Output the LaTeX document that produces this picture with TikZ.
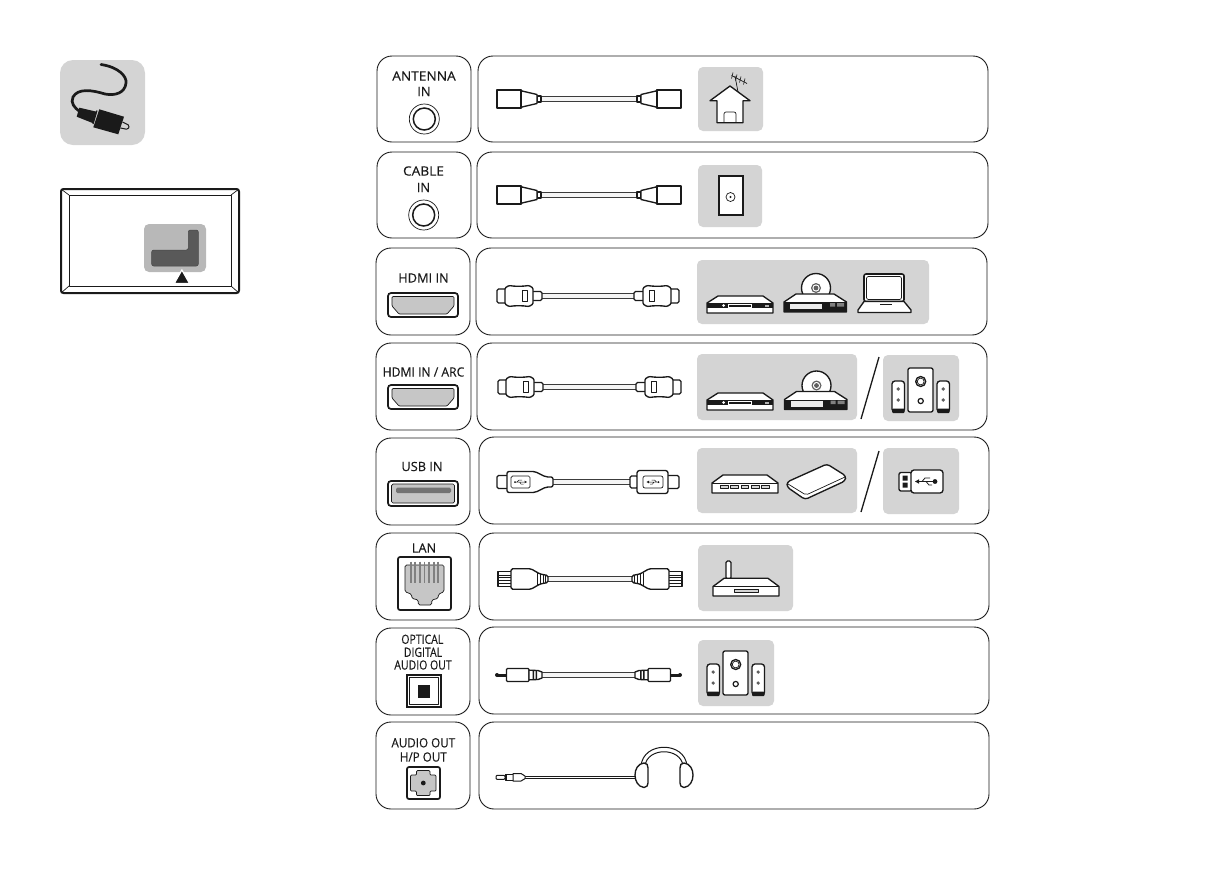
\documentclass[tikz,border=0pt]{standalone}
\usepackage{fontspec}
\setmainfont{Open Sans}
\newfontfamily\lblfont[FakeBold=0.22]{Open Sans}
\definecolor{tile}{HTML}{D4D4D4}
\definecolor{portgray}{HTML}{C6C6C6}
\definecolor{ink}{HTML}{1A1A1A}
\tikzset{
 rowbox/.style={draw=ink,line width=0.9pt,rounded corners=15pt,inner sep=0pt,fill=white},
 graytile/.style={fill=tile,draw=none,rounded corners=5pt,inner sep=0pt},
 cable/.style={draw=ink!85,line width=1pt,double=white!96!black,double distance=3.2pt},
 ol/.style={draw=ink,line width=1.35pt,line join=round},
 olt/.style={draw=ink,line width=0.7pt,line join=round},
 lbl/.style={font=\fontsize{12.8}{13}\lblfont,text=ink,inner sep=0pt,align=center},
 coaxplug/.pic={
  \draw[ol,fill=white] (-4,-3) rectangle (0,3);
  \draw[ol,fill=white] (-20,-9) -- (-19,-8) -- (-4,-4.5) -- (-4,4.5) -- (-19,8) -- (-20,9) -- cycle;
  \draw[ol,fill=white] (-44,-9) rectangle (-20,9);
  \draw[draw=ink,line width=1.8pt] (-19.5,-9) -- (-19.5,9);
 },
 hdmiplug/.pic={
  \draw[ol,fill=white,rounded corners=1.5pt] (-11,-4.5) rectangle (0,4.5);
  \draw[ol,fill=white,rounded corners=1.5pt] (-45,-7) rectangle (-35,7);
  \draw[ol,fill=white,rounded corners=1pt] (-37,-8) -- (-33,-10.5) .. controls (-27,-9.5) and (-20,-9.5) .. (-13,-10.5) -- (-9,-8) -- (-9,8) -- (-13,10.5) .. controls (-20,9.5) and (-27,9.5) .. (-33,10.5) -- (-37,8) -- cycle;
  \draw[olt,fill=white] (-20,-5.5) rectangle (-15,5.5);
 },
 usbsym/.pic={
  \draw[draw=ink,line width=0.5pt] (-5.5,0) -- (4,0) (-3.5,0) -- (-1.5,-2) -- (1.5,-2) (-1,0) -- (0.5,2) -- (3,2);
  \fill[ink] (4,-1.4) -- (6.5,0) -- (4,1.4) -- cycle;
  \fill[ink] (-5.5,0) circle[radius=1pt];
 },
 usbleft/.pic={
  \draw[ol,fill=white,rounded corners=1.5pt] (-56,-6.5) rectangle (-44,6.5);
  \draw[ol,fill=white,rounded corners=2pt] (-46,-10.5) -- (-18,-10.5) -- (-7,-5) -- (0,-5) -- (0,5) -- (-7,5) -- (-18,10.5) -- (-46,10.5) -- cycle;
  \draw[olt,fill=white,rounded corners=1.5pt] (-42,-6) rectangle (-23,6);
  \pic at (-32.5,0) {usbsym};
 },
 usbright/.pic={
  \draw[ol,fill=white,rounded corners=1.5pt] (36,-6.5) rectangle (49,6.5);
  \draw[ol,fill=white,rounded corners=1.5pt] (0,-6) rectangle (8,6);
  \draw[ol,fill=white,rounded corners=2.5pt] (7,-11.5) rectangle (38,11.5);
  \draw[olt,fill=white,rounded corners=2pt] (13,-6) rectangle (33,6);
  \pic[xscale=-1] at (23,0) {usbsym};
 },
 lanplug/.pic={
  \draw[ol,fill=white] (-50,-7.5) rectangle (-36,7.5);
  \draw[olt] (-50,-4) -- (-36,-4) (-50,-1.3) -- (-36,-1.3) (-50,1.3) -- (-36,1.3) (-50,4) -- (-36,4);
  \draw[ol,fill=white,rounded corners=1.5pt] (-37,-10.2) -- (-17,-10.2) -- (-8,-5) -- (0,-3.5) -- (0,3.5) -- (-8,5) -- (-17,10.2) -- (-37,10.2) -- cycle;
  \draw[olt] (-11,-6.5) -- (-11,6.5) (-8,-5) -- (-8,5) (-5,-4.5) -- (-5,4.5) (-2.5,-4) -- (-2.5,4);
 },
 optplug/.pic={
  \fill[ink] (-45,-1.5) rectangle (-35,1.5);
  \fill[ink] (-45,0) circle[radius=2pt];
  \draw[ol,fill=white,rounded corners=1pt] (-35.5,-6.5) rectangle (-13,6.5);
  \draw[ol,fill=white] (-13,-4.8) -- (-4,-4.5) -- (0,-3) -- (0,3) -- (-4,4.5) -- (-13,4.8) -- cycle;
  \fill[ink] (-9.5,-3.8) rectangle (-8,3.8) (-6.5,-3.8) rectangle (-5,3.8);
 },
 dvd/.pic={
  \draw[ol,fill=white] (0,7) -- (11,0) -- (56,0) -- (66,7) -- (66,17) -- (0,17) -- cycle;
  \fill[ink] (0,7) rectangle (66,12);
  \fill[white] (16.5,9.5) circle[radius=1.5pt];
  \draw[draw=white,line width=0.5pt] (21,8.2) rectangle (44,10.8);
  \fill[white!70!black] (58,8.5) rectangle (62,10.5);
 },
 discplayer/.pic={
  \draw[ol,fill=white] (32,15) circle[radius=14.5pt];
  \fill[ink!70] (32,15) circle[radius=5pt];
  \fill[white] (32,15) circle[radius=3.6pt];
  \fill[ink!70] (32,15) circle[radius=2.4pt];
  \draw[ol,fill=white] (0,29) -- (12,21) -- (50,21) -- (62.5,29) -- (62.5,39) -- (0,39) -- cycle;
  \fill[ink] (0,29) rectangle (62.5,39);
  \fill[white!92!black] (6,30.5) rectangle (38,36);
  \fill[gray] (46,30) rectangle (51,33.5) (53,30) rectangle (60,33.5);
 },
 laptop/.pic={
  \draw[ol,line width=1.6pt,fill=white,rounded corners=2pt] (6,0) rectangle (46,27.5);
  \draw[olt,rounded corners=2pt] (8.5,2.5) rectangle (43.5,25.5);
  \draw[ol,fill=white] (6,27.5) -- (46,27.5) -- (53,36) -- (53,38.5) -- (0,38.5) -- (0,36) -- cycle;
  \fill[ink] (22,29.5) rectangle (34,31);
 },
 speakers/.pic={
  \draw[ol,fill=white,rounded corners=2pt] (16,0) rectangle (41,44);
  \draw[ol] (28.7,13.5) circle[radius=5pt];
  \draw[olt] (28.7,13.5) circle[radius=3.4pt];
  \draw[draw=ink,line width=1.2pt] (28.7,33) circle[radius=2.6pt];
  \foreach \sx in {0,45}{
   \draw[ol,fill=white,rounded corners=3pt] (\sx,13) rectangle ++(12.5,31);
   \fill[ink!70] (\sx+6.2,21) circle[radius=1.8pt] (\sx+6.2,32) circle[radius=1.8pt];
   \fill[ink,rounded corners=1pt] (\sx,40.5) rectangle ++(12.5,4.5);
  }
 },
 hub/.pic={
  \draw[ol,fill=white] (0,8) -- (11,0) -- (55,0) -- (66,8) -- (66,18) -- (0,18) -- cycle;
  \draw[ink,line width=0.6pt] (0,8) -- (66,8);
  \foreach \k in {0,...,4}{\draw[olt,fill=tile] (8.5+\k*10.2,10) rectangle ++(7.8,3.5);}
 },
 router/.pic={
  \draw[ol,fill=white,rounded corners=1.5pt] (13,0) rectangle (18,18);
  \draw[ol,fill=white] (0,25.5) -- (11,17.3) -- (55,17.3) -- (66,25.5) -- (66,35) -- (0,35) -- cycle;
  \draw[ink,line width=0.6pt] (0,25.5) -- (66,25.5);
  \draw[olt,fill=tile] (21,28) rectangle (45,31);
 },
 hdmiport/.pic={
  \draw[draw=ink,line width=1.7pt,fill=white,rounded corners=3pt] (0,0) rectangle (70,24);
  \draw[olt,fill=portgray,rounded corners=1pt] (4,3.5) -- (66,3.5) -- (66,13) -- (59,21) -- (11,21) -- (4,13) -- cycle;
 },
}
\begin{document}
\begin{tikzpicture}[x=1pt,y=-1pt]
\useasboundingbox (0,0) rectangle (1220,868);
% left icon
\node[graytile,rounded corners=13pt,minimum width=85pt,minimum height=85pt] (icon) at (102.5,102.5) {};
\draw[draw=ink,line width=2.7pt,line cap=round] (101,64.5) .. controls (118,67) and (127,76) .. (126,83) .. controls (125,93) and (115,96) .. (105,94) .. controls (92,90) and (78,88) .. (73,97) .. controls (70,103) and (75,108) .. (79,111);
\fill[ink] (79.3,107.7) -- (96.7,111.7) -- (93.3,123.3) -- (76.7,116.7) -- cycle;
\fill[ink] (99.3,109.3) -- (124,116.7) -- (118.3,134.3) -- (93.3,127.3) -- cycle;
\draw[draw=ink,line width=1.2pt] (97,110.5) -- (93,124);
\draw[draw=ink,line width=1pt,rounded corners=1.5pt] (122.5,122) -- (129.5,125.5) -- (128,129.5) -- (120.5,128);
% tv
\draw[draw=ink,line width=2pt,rounded corners=2.5pt] (61,189) rectangle (239,293);
\draw[olt] (69,195) rectangle (231,286);
\draw[olt] (61,189) -- (69,195) (239,189) -- (231,195) (61,293) -- (69,286) (239,293) -- (231,286);
\node[fill=black!28,rounded corners=5pt,inner sep=0pt,minimum width=62pt,minimum height=48pt] (panel) at (175,248) {};
\fill[black!65,draw=ink!80,line width=0.5pt,rounded corners=2pt] (151.7,250) -- (188.3,250) -- (188.3,230) -- (198.3,230) -- (198.3,266) -- (151.7,266) -- cycle;
\draw[draw=white,line width=1.2pt,fill=ink] (181.9,270) -- (189.5,283.4) -- (174.3,283.4) -- cycle;
% row boxes
\node[rowbox,minimum width=94pt,minimum height=86pt] (p1) at (424,99) {};
\node[rowbox,minimum width=510pt,minimum height=86pt] (r1) at (733,99) {};
\node[rowbox,minimum width=94pt,minimum height=86pt] (p2) at (424,195) {};
\node[rowbox,minimum width=511pt,minimum height=86pt] (r2) at (732.5,195) {};
\node[rowbox,minimum width=94pt,minimum height=87pt] (p3) at (423,291.5) {};
\node[rowbox,minimum width=511pt,minimum height=87pt] (r3) at (731.5,291.5) {};
\node[rowbox,minimum width=95pt,minimum height=87pt] (p4) at (423.5,386.5) {};
\node[rowbox,minimum width=510pt,minimum height=87pt] (r4) at (732,386.5) {};
\node[rowbox,minimum width=94pt,minimum height=87pt] (p5) at (423,481.5) {};
\node[rowbox,minimum width=510pt,minimum height=87pt] (r5) at (734,480.5) {};
\node[rowbox,minimum width=94pt,minimum height=87pt] (p6) at (423,576.5) {};
\node[rowbox,minimum width=510pt,minimum height=87pt] (r6) at (734,576.5) {};
\node[rowbox,minimum width=94pt,minimum height=87pt] (p7) at (423,671.5) {};
\node[rowbox,minimum width=510pt,minimum height=87pt] (r7) at (734,670.5) {};
\node[rowbox,minimum width=94pt,minimum height=87pt] (p8) at (423,765.5) {};
\node[rowbox,minimum width=510pt,minimum height=87pt] (r8) at (734,765.5) {};
% labels
\node[lbl] (t1a) at (424,76) {\scalebox{1.07}[1]{ANTENNA}};
\node[lbl] (t1b) at (424,91.5) {IN};
\node[lbl] (t2a) at (423.5,171) {\scalebox{1.07}[1]{CABLE}};
\node[lbl] (t2b) at (423.5,187.5) {IN};
\node[lbl] (t3) at (423.5,278) {HDMI IN};
\node[lbl] (t4) at (423.5,372) {\scalebox{0.95}[1]{HDMI IN / ARC}};
\node[lbl] (t5) at (422,466.5) {USB IN};
\node[lbl] (t6) at (424,548) {LAN};
\node[lbl] (t7a) at (422.3,639.3) {\scalebox{0.82}[1]{OPTICAL}};
\node[lbl] (t7b) at (423,652.3) {\scalebox{0.82}[1]{DIGITAL}};
\node[lbl] (t7c) at (423,665) {\scalebox{0.82}[1]{AUDIO OUT}};
\node[lbl] (t8a) at (423.3,742.8) {\scalebox{0.91}[1]{AUDIO OUT}};
\node[lbl] (t8b) at (423.3,757) {\scalebox{0.91}[1]{H/P OUT}};
% ports
\foreach \px/\py in {424.3/119,423.7/215}{
 \draw[olt] (\px,\py) circle[radius=15pt];
 \draw[draw=ink,line width=1.5pt] (\px,\py) circle[radius=11pt];
}
\pic at (388,293) {hdmiport};
\pic at (388,385) {hdmiport};
\draw[draw=ink,line width=1.7pt,fill=white,rounded corners=3pt] (388,481) rectangle (458,506);
\draw[olt,fill=portgray,rounded corners=1.5pt] (391.5,484) rectangle (454.5,503);
\fill[black!55,rounded corners=1.5pt] (396,487.5) rectangle (451,493);
\draw[draw=ink,line width=1.7pt,fill=white,rounded corners=2pt] (398,557) rectangle (451,610);
\draw[olt,fill=portgray,rounded corners=1.5pt] (405,565) -- (444,565) -- (444,591.7) -- (438.3,594.3) -- (438.3,598.3) -- (431.7,600) -- (431.7,605) -- (418.3,605) -- (418.3,600) -- (411.7,598.3) -- (411.7,594.3) -- (405,591.7) -- cycle;
\foreach \k in {0,...,6}{\draw[draw=black!50,line width=1.8pt] (410.7+\k*4.6,561.5) -- (410.7+\k*4.6,583);}
\draw[draw=ink,line width=1.3pt,fill=white] (407,675) rectangle (441,707);
\draw[olt] (409.5,677.5) rectangle (438.5,704.5);
\fill[ink] (417.5,685) rectangle (430,698);
\draw[draw=ink,line width=1.7pt,fill=white,rounded corners=2pt] (407,767) rectangle (440,799);
\draw[olt,fill=portgray,rounded corners=1pt] (416.5,770.5) -- (430,770.5) -- (430,775) -- (436,775) -- (436,791) -- (430,791) -- (430,795.5) -- (416.5,795.5) -- (416.5,791) -- (410.5,791) -- (410.5,775) -- (416.5,775) -- cycle;
\fill[ink] (423.3,783) circle[radius=2.4pt];
% tiles
\node[graytile,minimum width=65pt,minimum height=64pt] (g1) at (730.5,99) {};
\node[graytile,minimum width=64pt,minimum height=62pt] (g2) at (730,196) {};
\node[graytile,minimum width=232pt,minimum height=64pt] (g3) at (813,292) {};
\node[graytile,minimum width=160pt,minimum height=66pt] (g4) at (777,387) {};
\node[graytile,minimum width=76pt,minimum height=66pt] (g4b) at (921,388) {};
\node[graytile,minimum width=160pt,minimum height=65pt] (g5) at (777,480.5) {};
\node[graytile,minimum width=76pt,minimum height=66pt] (g5b) at (921,481) {};
\node[graytile,minimum width=95pt,minimum height=66pt] (g6) at (745.5,578) {};
\node[graytile,minimum width=76pt,minimum height=66pt] (g7) at (736,673) {};
% separators
\coordinate (s4a) at (879,357); \coordinate (s4b) at (861,419);
\coordinate (s5a) at (879,451); \coordinate (s5b) at (861,512);
\draw[draw=ink,line width=1.3pt] (s4a) -- (s4b);
\draw[draw=ink,line width=1.3pt] (s5a) -- (s5b);
% cables
\coordinate (c1a) at (541,99);   \coordinate (c1b) at (637,99);
\coordinate (c2a) at (541,195);  \coordinate (c2b) at (637,195);
\coordinate (c3a) at (542,296);  \coordinate (c3b) at (634,296);
\coordinate (c4a) at (543,387);  \coordinate (c4b) at (636,387);
\coordinate (c5a) at (553,482);  \coordinate (c5b) at (630,482);
\coordinate (c6a) at (548,579);  \coordinate (c6b) at (632,579);
\coordinate (c7a) at (542,675);  \coordinate (c7b) at (635,675);
\coordinate (c8a) at (525,777.3);\coordinate (c8b) at (636,777.3);
\foreach \n in {1,...,7}{\draw[cable] (c\n a) -- (c\n b);}
\draw[draw=ink,line width=0.9pt,double=white,double distance=1.3pt] (c8a) -- (c8b);
\pic at (c1a) {coaxplug}; \pic[xscale=-1] at (c1b) {coaxplug};
\pic at (c2a) {coaxplug}; \pic[xscale=-1] at (c2b) {coaxplug};
\pic at (c3a) {hdmiplug}; \pic[xscale=-1] at (c3b) {hdmiplug};
\pic at (c4a) {hdmiplug}; \pic[xscale=-1] at (c4b) {hdmiplug};
\pic at (c5a) {usbleft};  \pic at (c5b) {usbright};
\pic at (c6a) {lanplug};  \pic[xscale=-1] at (c6b) {lanplug};
\pic at (c7a) {optplug};  \pic[xscale=-1] at (c7b) {optplug};
% jack
\draw[olt,line width=1pt,fill=white,rounded corners=1pt] (496,775.3) rectangle (505,779.3);
\draw[olt,line width=1pt,fill=white] (505,774.5) rectangle (513,780);
\draw[olt,line width=1pt,fill=white] (513,773.5) -- (521,773.5) -- (525,776) -- (525,778.6) -- (521,781) -- (513,781) -- cycle;
\draw[draw=ink,line width=1.2pt] (506.5,774.5) -- (506.5,780);
% headphones
\draw[draw=ink,line width=1pt,fill=white] (641,766) .. controls (643,741) and (685,741) .. (687,766) -- (683,766) .. controls (681,747) and (647,747) .. (645,766) -- cycle;
\draw[ol,fill=white] (648,768) .. controls (648,765) and (647,763) .. (644,763) .. controls (632,764) and (632,786) .. (644,787.5) .. controls (647,787.5) and (648,785) .. (648,783) -- cycle;
\draw[ol,fill=white] (680,768) .. controls (680,765) and (681,763) .. (684,763) .. controls (696,764) and (696,786) .. (684,787.5) .. controls (681,787.5) and (680,785) .. (680,783) -- cycle;
% house
\draw[draw=ink,line width=0.7pt] (738,92) -- (735,76) (731.5,75.5) -- (747,83.5);
\draw[draw=ink,line width=0.6pt] (733,72.5) -- (731.5,78.5) (737,74.5) -- (735.5,80.5) (741,76.5) -- (739.5,82.5) (745,78.5) -- (743.5,84.5);
\draw[ol,fill=white] (717,100.7) -- (710,100.7) -- (730,86) -- (750,100.7) -- (743,100.7) -- (743,122.7) -- (717,122.7) -- cycle;
\draw[olt,rounded corners=2pt] (724,122.7) -- (724,112) -- (736,112) -- (736,122.7);
% outlet
\draw[draw=ink,line width=2pt,fill=white] (719,176) rectangle (743,215);
\draw[olt] (730.5,197) circle[radius=4.5pt];
\fill[ink] (730.5,197) circle[radius=1.2pt];
% devices
\pic at (707,296) {dvd};
\pic at (784,273) {discplayer};
\pic at (858,274) {laptop};
\pic at (707,393) {dvd};
\pic at (784.5,370.5) {discplayer};
\pic at (892,368) {speakers};
\pic at (712,475) {hub};
\pic at (707,651) {speakers};
\pic at (713,561) {router};
% hdd
\draw[ol,fill=white,rounded corners=3pt] (787,482) -- (827,464) -- (846,476) -- (845,481) -- (805,499.5) -- (787,487) -- cycle;
\draw[olt,rounded corners=2pt] (788,484) -- (806,495) -- (845,477);
% usb stick
\draw[ol,fill=white,rounded corners=2pt] (899,472.5) rectangle (912,491);
\fill[ink] (902.5,475.5) rectangle (907.5,480.5) (902.5,482.5) rectangle (907.5,487.5);
\draw[ol,fill=white,rounded corners=3pt] (911,470) rectangle (943,493);
\draw[draw=ink,line width=0.8pt] (917,481.5) -- (935,481.5) (922,481.5) -- (925,478) -- (930,478) (926,481.5) -- (929,485) -- (932,485);
\fill[ink] (935,481.5) circle[radius=2.4pt];
\fill[ink] (915,481.5) -- (919,479.3) -- (919,483.7) -- cycle;
\end{tikzpicture}
\end{document}
